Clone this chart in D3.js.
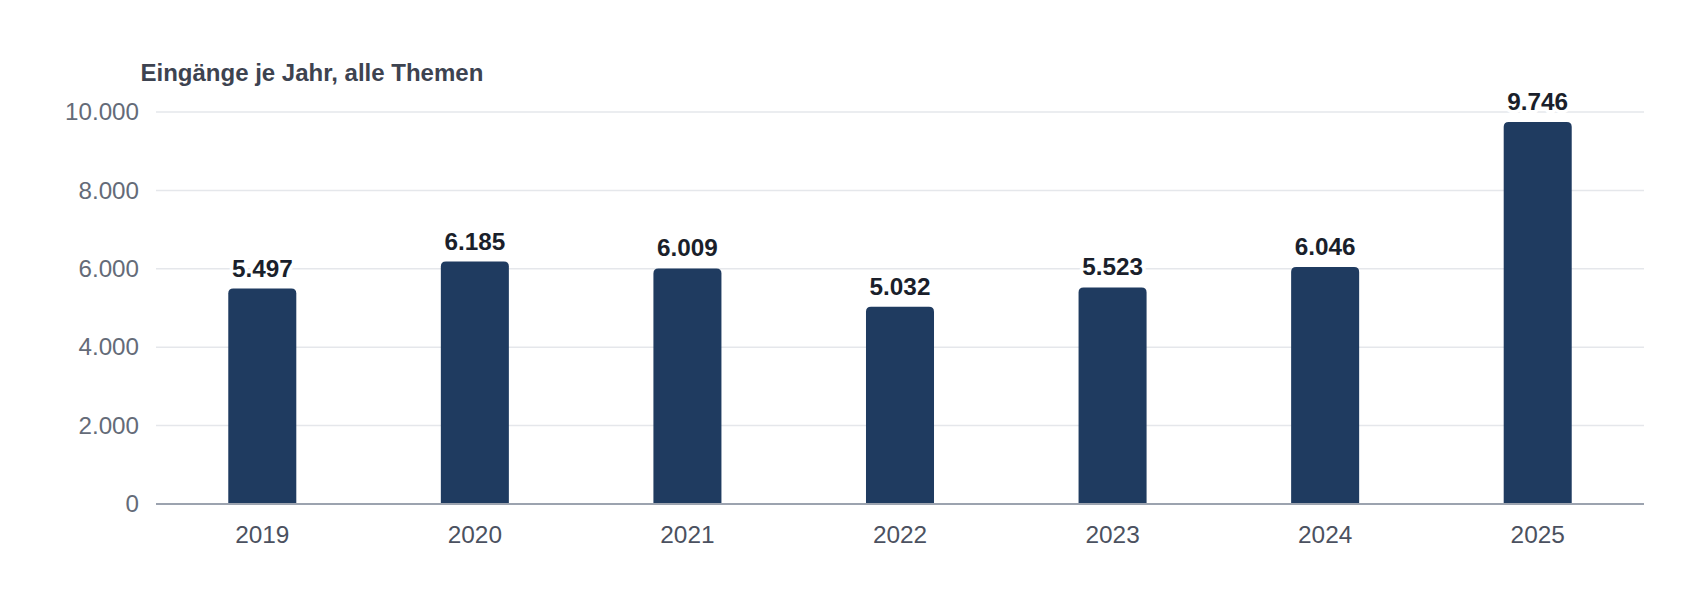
<!DOCTYPE html>
<html>
<head>
<meta charset="utf-8">
<script src="https://cdn.jsdelivr.net/npm/d3@7"></script>
<style>
  html, body { margin: 0; padding: 0; background: #ffffff; }
  svg { display: block; font-family: "Liberation Sans", Arial, Helvetica, sans-serif; }
</style>
</head>
<body>
<svg id="chart" width="1704" height="604"></svg>
<script>
const years = ["2019", "2020", "2021", "2022", "2023", "2024", "2025"];
const counts = [5497, 6185, 6009, 5032, 5523, 6046, 9746];
const yTicks = [0, 2000, 4000, 6000, 8000, 10000];
const titleText = "Eingänge je Jahr, alle Themen";

(function () {
const svg = d3.select("#chart");
const mLeft = 156, mRight = 1644, mTop = 112, mBottom = 504;

const x = d3.scaleBand().domain(years).range([mLeft, mRight]).paddingInner(0.68).paddingOuter(0.34);
const y = d3.scaleLinear().domain([0, 10000]).range([mBottom, mTop]);
const fmt = v => d3.format(",")(v).replace(/,/g, ".");

// gridlines
svg.append("g").selectAll("line").data(yTicks.filter(t => t > 0)).join("line")
  .attr("x1", mLeft).attr("x2", mRight)
  .attr("y1", d => y(d)).attr("y2", d => y(d))
  .attr("stroke", "#e5e7eb").attr("stroke-width", 1.5);

// y axis labels
const yAxis = d3.axisLeft(y).tickValues(yTicks).tickFormat(fmt).tickSize(0).tickPadding(17);
const gy = svg.append("g").attr("transform", `translate(${mLeft},0)`).call(yAxis);
gy.select(".domain").remove();
gy.selectAll("text").attr("fill", "#646b78").attr("font-size", 24.2)
  .attr("font-family", "'Liberation Sans', Arial, sans-serif");

// bars with rounded top corners
const r = 5;
svg.append("g").selectAll("path").data(years).join("path")
  .attr("fill", "#1f3b60")
  .attr("d", (d, i) => {
    const x0 = x(d), w = x.bandwidth(), yt = y(counts[i]), yb = y(0);
    return `M${x0},${yb}V${yt + r}Q${x0},${yt} ${x0 + r},${yt}H${x0 + w - r}Q${x0 + w},${yt} ${x0 + w},${yt + r}V${yb}Z`;
  });

// x axis
const xAxis = d3.axisBottom(x).tickSize(0).tickPadding(22);
const gx = svg.append("g").attr("transform", `translate(0,${mBottom})`).call(xAxis);
gx.select(".domain").attr("stroke", "#9ca3af").attr("stroke-width", 2)
  .attr("d", `M${mLeft},0H${mRight}`);
gx.selectAll("text").attr("fill", "#4b5160").attr("font-size", 24.4)
  .attr("font-family", "'Liberation Sans', Arial, sans-serif");

// value labels
svg.append("g").selectAll("text").data(years).join("text")
  .attr("x", d => x(d) + x.bandwidth() / 2)
  .attr("y", (d, i) => y(counts[i]) - 12)
  .attr("text-anchor", "middle")
  .attr("font-size", 24.3).attr("font-weight", "bold")
  .attr("fill", "#1a1f2b")
  .attr("stroke", "#ffffff").attr("stroke-width", 7).attr("stroke-linejoin", "round")
  .attr("paint-order", "stroke")
  .text((d, i) => fmt(counts[i]));

// title
svg.append("text").attr("x", 140.5).attr("y", 80.5)
  .attr("font-size", 24).attr("font-weight", "bold").attr("fill", "#3d4350")
  .text(titleText);
})();
</script>
</body>
</html>
